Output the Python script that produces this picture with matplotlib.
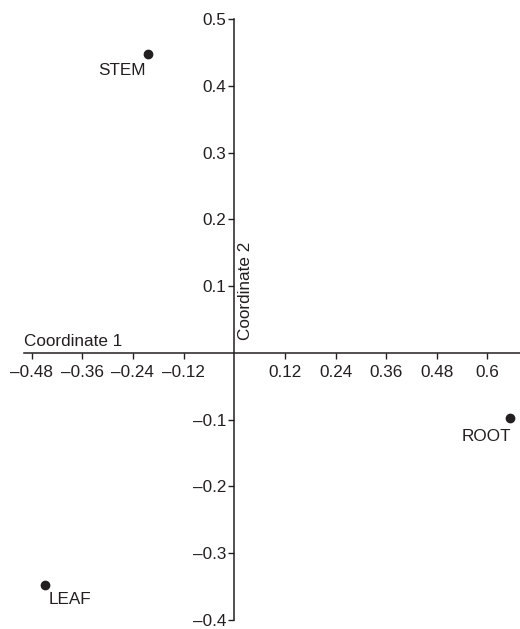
import matplotlib.pyplot as plt

# PCoA coordinates of the three tissues
tissues = ["STEM", "ROOT", "LEAF"]
coord1 = [-0.204, 0.653, -0.449]
coord2 = [0.447, -0.098, -0.347]

xticks = [-0.48, -0.36, -0.24, -0.12, 0.12, 0.24, 0.36, 0.48, 0.6]
yticks = [-0.4, -0.3, -0.2, -0.1, 0.1, 0.2, 0.3, 0.4, 0.5]

plt.rcParams['font.family'] = ['Liberation Sans', 'DejaVu Sans']
ink = '#231f20'

fig = plt.figure(figsize=(5.2, 6.29), dpi=100)
ax = fig.add_axes([24 / 520, 9 / 629, 496 / 520, 601 / 629])

ax.scatter(coord1, coord2, s=36, color=ink, zorder=3, clip_on=False)

# label offsets (points) and alignment for each tissue label
label_style = {
    "STEM": dict(xytext=(-2, -6), ha='right'),
    "ROOT": dict(xytext=(1, -8), ha='right'),
    "LEAF": dict(xytext=(3, -5), ha='left'),
}
for name, x, y in zip(tissues, coord1, coord2):
    st = label_style[name]
    ax.annotate(name, (x, y), xytext=st['xytext'], textcoords='offset points',
                ha=st['ha'], va='top', fontsize=12.3, color=ink)

ax.set_xlim(-0.498, 0.677)
ax.set_ylim(-0.4, 0.5)

# axes cross at the origin
ax.spines['left'].set_position(('data', 0))
ax.spines['bottom'].set_position(('data', 0))
ax.spines['top'].set_visible(False)
ax.spines['right'].set_visible(False)
for sp in ('left', 'bottom'):
    ax.spines[sp].set_color(ink)
    ax.spines[sp].set_linewidth(1.1)

ax.set_xticks(xticks)
ax.set_xticklabels([f"{v:g}".replace('-', '\u2013') for v in xticks])
ax.set_yticks(yticks)
ax.set_yticklabels([f"{v:g}".replace('-', '\u2013') for v in yticks])
ax.tick_params(axis='both', direction='out', length=4, width=1, color=ink,
               labelsize=12.3, labelcolor=ink)
ax.tick_params(axis='x', pad=5)
ax.tick_params(axis='y', pad=2)

ax.annotate('Coordinate 1', (-0.498, 0), xytext=(0, 3), textcoords='offset points',
            fontsize=12.3, color=ink, ha='left', va='bottom')
ax.annotate('Coordinate 2', (0, 0), xytext=(3, 9), textcoords='offset points',
            rotation=90, fontsize=12.3, color=ink, ha='left', va='bottom')

fig.savefig('out.png', dpi=100)
